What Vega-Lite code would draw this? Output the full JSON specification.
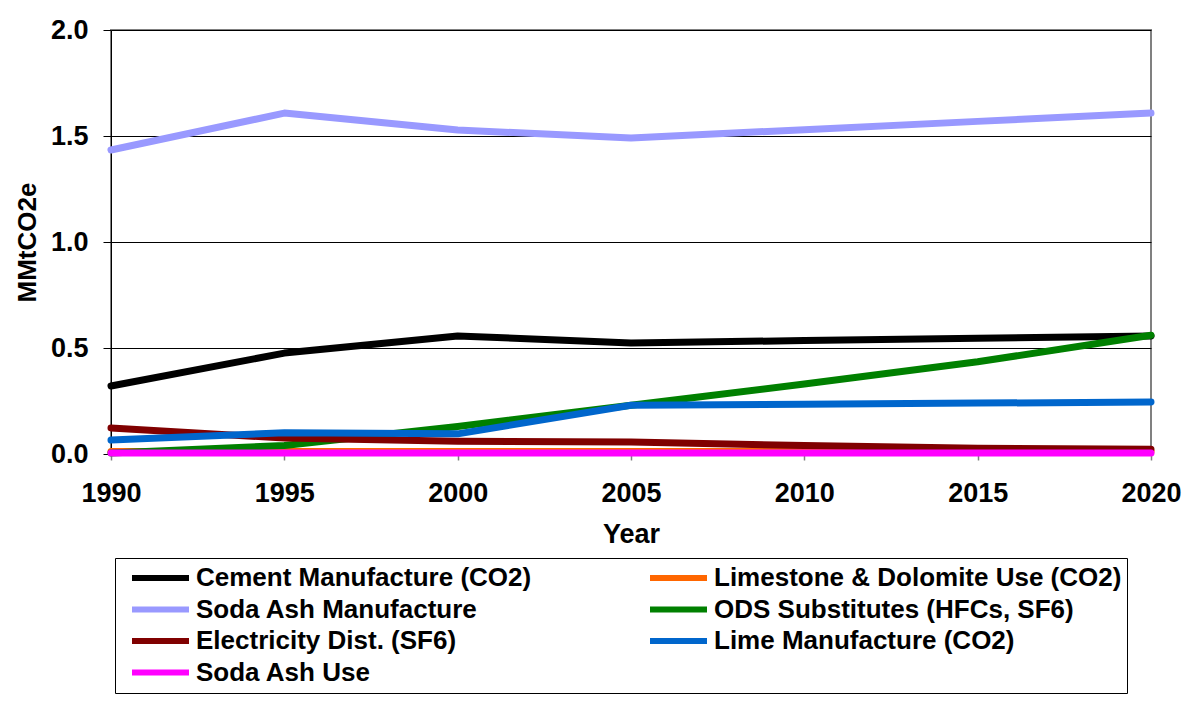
{
  "$schema": "https://vega.github.io/schema/vega-lite/v6.json",
  "width": 1040,
  "height": 424,
  "autosize": {"type": "none"},
  "padding": {"left": 111, "top": 30, "right": 52, "bottom": 248},
  "background": "white",
  "config": {
    "view": {"stroke": "#808080", "strokeWidth": 2},
    "font": "Liberation Sans"
  },
  "data": {
    "values": [
      {"series": "Cement Manufacture (CO2)", "year": 1990, "value": 0.321},
      {"series": "Cement Manufacture (CO2)", "year": 1995, "value": 0.476},
      {"series": "Cement Manufacture (CO2)", "year": 2000, "value": 0.557},
      {"series": "Cement Manufacture (CO2)", "year": 2005, "value": 0.524},
      {"series": "Cement Manufacture (CO2)", "year": 2010, "value": 0.535},
      {"series": "Cement Manufacture (CO2)", "year": 2015, "value": 0.546},
      {"series": "Cement Manufacture (CO2)", "year": 2020, "value": 0.557},
      {"series": "Limestone & Dolomite Use (CO2)", "year": 1990, "value": 0.012},
      {"series": "Limestone & Dolomite Use (CO2)", "year": 1995, "value": 0.012},
      {"series": "Limestone & Dolomite Use (CO2)", "year": 2000, "value": 0.012},
      {"series": "Limestone & Dolomite Use (CO2)", "year": 2005, "value": 0.012},
      {"series": "Limestone & Dolomite Use (CO2)", "year": 2010, "value": 0.012},
      {"series": "Limestone & Dolomite Use (CO2)", "year": 2015, "value": 0.012},
      {"series": "Limestone & Dolomite Use (CO2)", "year": 2020, "value": 0.012},
      {"series": "Soda Ash Manufacture", "year": 1990, "value": 1.434},
      {"series": "Soda Ash Manufacture", "year": 1995, "value": 1.608},
      {"series": "Soda Ash Manufacture", "year": 2000, "value": 1.528},
      {"series": "Soda Ash Manufacture", "year": 2005, "value": 1.491},
      {"series": "Soda Ash Manufacture", "year": 2010, "value": 1.530},
      {"series": "Soda Ash Manufacture", "year": 2015, "value": 1.569},
      {"series": "Soda Ash Manufacture", "year": 2020, "value": 1.608},
      {"series": "ODS Substitutes (HFCs, SF6)", "year": 1990, "value": 0.005},
      {"series": "ODS Substitutes (HFCs, SF6)", "year": 1995, "value": 0.04},
      {"series": "ODS Substitutes (HFCs, SF6)", "year": 2000, "value": 0.13},
      {"series": "ODS Substitutes (HFCs, SF6)", "year": 2005, "value": 0.23},
      {"series": "ODS Substitutes (HFCs, SF6)", "year": 2010, "value": 0.33},
      {"series": "ODS Substitutes (HFCs, SF6)", "year": 2015, "value": 0.435},
      {"series": "ODS Substitutes (HFCs, SF6)", "year": 2020, "value": 0.56},
      {"series": "Electricity Dist. (SF6)", "year": 1990, "value": 0.123},
      {"series": "Electricity Dist. (SF6)", "year": 1995, "value": 0.075},
      {"series": "Electricity Dist. (SF6)", "year": 2000, "value": 0.06},
      {"series": "Electricity Dist. (SF6)", "year": 2005, "value": 0.057},
      {"series": "Electricity Dist. (SF6)", "year": 2010, "value": 0.04},
      {"series": "Electricity Dist. (SF6)", "year": 2015, "value": 0.027},
      {"series": "Electricity Dist. (SF6)", "year": 2020, "value": 0.022},
      {"series": "Lime Manufacture (CO2)", "year": 1990, "value": 0.066},
      {"series": "Lime Manufacture (CO2)", "year": 1995, "value": 0.1},
      {"series": "Lime Manufacture (CO2)", "year": 2000, "value": 0.095},
      {"series": "Lime Manufacture (CO2)", "year": 2005, "value": 0.23},
      {"series": "Lime Manufacture (CO2)", "year": 2010, "value": 0.235},
      {"series": "Lime Manufacture (CO2)", "year": 2015, "value": 0.24},
      {"series": "Lime Manufacture (CO2)", "year": 2020, "value": 0.245},
      {"series": "Soda Ash Use", "year": 1990, "value": 0.005},
      {"series": "Soda Ash Use", "year": 1995, "value": 0.005},
      {"series": "Soda Ash Use", "year": 2000, "value": 0.005},
      {"series": "Soda Ash Use", "year": 2005, "value": 0.005},
      {"series": "Soda Ash Use", "year": 2010, "value": 0.005},
      {"series": "Soda Ash Use", "year": 2015, "value": 0.005},
      {"series": "Soda Ash Use", "year": 2020, "value": 0.005}
    ]
  },
  "mark": {"type": "line", "strokeWidth": 7, "strokeCap": "round", "strokeJoin": "round"},
  "encoding": {
    "x": {
      "field": "year",
      "type": "quantitative",
      "scale": {"domain": [1990, 2020], "nice": false, "zero": false},
      "axis": {
        "title": "Year",
        "values": [1990, 1995, 2000, 2005, 2010, 2015, 2020],
        "format": "d",
        "grid": false,
        "labelFlush": false,
        "labelOverlap": false,
        "domainColor": "black",
        "domainWidth": 1,
        "tickColor": "#808080",
        "tickSize": 6,
        "tickWidth": 1.5,
        "labelFontSize": 27,
        "labelFontWeight": "bold",
        "labelColor": "black",
        "labelPadding": 20,
        "titleFontSize": 27,
        "titleFontWeight": "bold",
        "titleColor": "black",
        "titlePadding": 15
      }
    },
    "y": {
      "field": "value",
      "type": "quantitative",
      "scale": {"domain": [0, 2], "nice": false},
      "axis": {
        "title": "MMtCO2e",
        "values": [0, 0.5, 1, 1.5, 2],
        "format": ".1f",
        "grid": true,
        "labelFlush": false,
        "labelOverlap": false,
        "gridColor": "black",
        "gridOpacity": 1,
        "gridWidth": 1,
        "domainColor": "black",
        "domainWidth": 1,
        "tickColor": "black",
        "tickSize": 8,
        "labelFontSize": 27,
        "labelFontWeight": "bold",
        "labelColor": "black",
        "labelPadding": 15,
        "titleFontSize": 26,
        "titleFontWeight": "bold",
        "titleColor": "black",
        "titlePadding": 10
      }
    },
    "color": {
      "field": "series",
      "type": "nominal",
      "sort": null,
      "scale": {
        "domain": [
          "Cement Manufacture (CO2)",
          "Limestone & Dolomite Use (CO2)",
          "Soda Ash Manufacture",
          "ODS Substitutes (HFCs, SF6)",
          "Electricity Dist. (SF6)",
          "Lime Manufacture (CO2)",
          "Soda Ash Use"
        ],
        "range": ["#000000", "#FF6600", "#9999FF", "#008000", "#800000", "#0066CC", "#FF00FF"]
      },
      "legend": {
        "title": null,
        "orient": "none",
        "legendX": 4,
        "legendY": 528,
        "direction": "horizontal",
        "columns": 2,
        "symbolType": "stroke",
        "symbolSize": 3249,
        "symbolStrokeWidth": 6,
        "symbolOpacity": 1,
        "symbolOffset": 9,
        "clipHeight": 30,
        "labelFont": "Liberation Sans",
        "labelFontWeight": "bold",
        "labelFontSize": 26,
        "labelColor": "black",
        "labelLimit": 0,
        "labelOffset": 4,
        "columnPadding": 106,
        "rowPadding": 1.5,
        "padding": 5,
        "strokeColor": "black",
        "fillColor": "white",
        "cornerRadius": 0
      }
    }
  }
}
